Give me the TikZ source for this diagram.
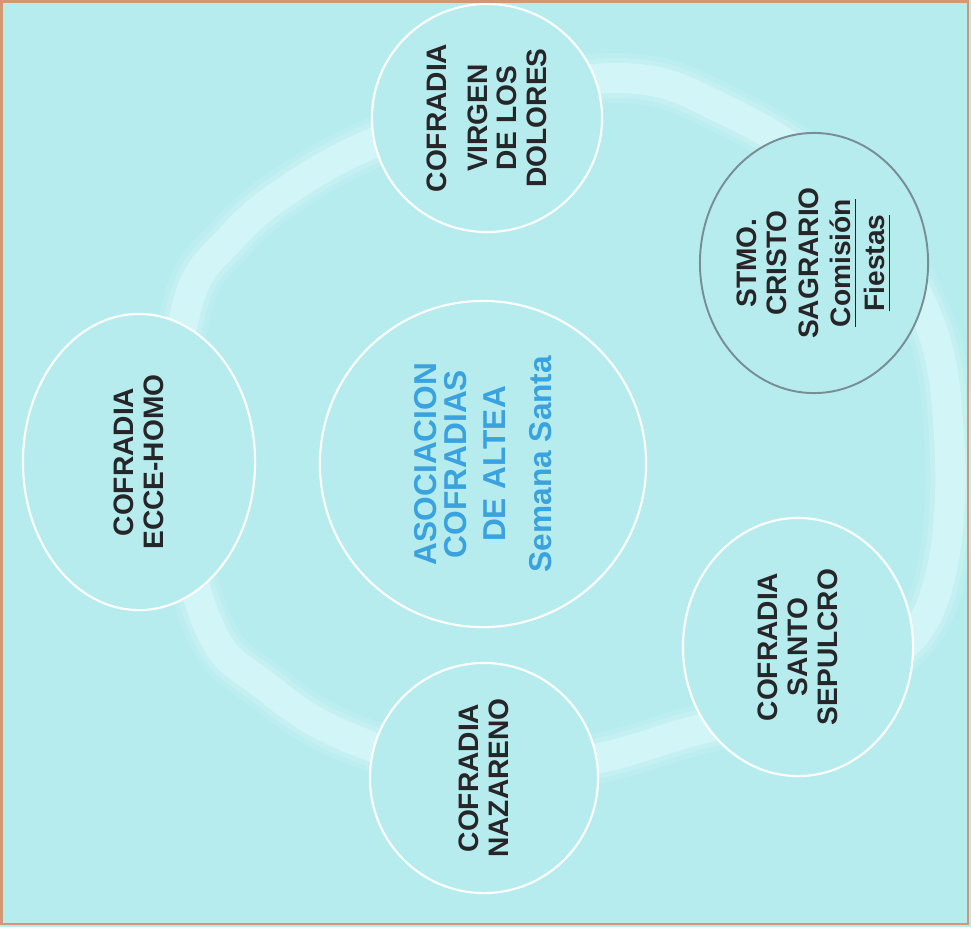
\documentclass[tikz,border=0pt]{standalone}
\usepackage{fontspec}
\setmainfont{Liberation Sans}
\usetikzlibrary{shapes.geometric}
\definecolor{bgc}{RGB}{183,236,239}
\definecolor{bandc}{RGB}{210,245,247}
\definecolor{framec}{RGB}{212,150,118}
\definecolor{darktxt}{RGB}{38,38,40}
\definecolor{bluetxt}{RGB}{58,162,222}
\definecolor{grayline}{RGB}{120,142,148}
\tikzset{
  orb/.style={ellipse, draw=white, line width=0.6pt, fill=bgc, inner sep=0pt,
    rotate=90, align=center, text=darktxt,
    font=\bfseries\fontsize{8}{8.5}\selectfont},
  grayorb/.style={orb, draw=grayline, line width=0.55pt},
  hub/.style={orb, text=bluetxt, font=\bfseries\fontsize{9}{8.6}\selectfont},
  band/.style={draw=bandc, line width=0.30cm, line join=round},
  softband/.style={draw=bandc, line width=0.40cm, opacity=0.4, line join=round},
  softerband/.style={draw=bandc, line width=0.50cm, opacity=0.2, line join=round}
}
\def\ringpts{(186,310) (232,237) (300,182) (380,140) (480,104) (620,78) (725,110)
    (830,180) (915,290) (948,420) (938,585) (880,665) (790,705) (690,732)
    (590,760) (480,772) (355,740) (268,688) (207,622) (176,465)}
\begin{document}
\begin{tikzpicture}[x=0.01cm, y=-0.01cm]
  \useasboundingbox (0,0) rectangle (971,927);
  \fill[bgc] (0,0) rectangle (971,927);
  % wide light ring
  \path[softerband] plot[smooth cycle, tension=0.7] coordinates {\ringpts};
  \path[softband] plot[smooth cycle, tension=0.7] coordinates {\ringpts};
  \path[band] plot[smooth cycle, tension=0.7] coordinates {\ringpts};
  % circles
  \node[hub, minimum width=3.26cm, minimum height=3.26cm] (center) at (483,464)
    {ASOCIACION\\COFRADIAS\\[2.4pt]DE ALTEA\\[4.6pt]Semana Santa};
  \node[orb, minimum width=2.28cm, minimum height=2.30cm] (virgen) at (487,118)
    {COFRADIA\\[3pt]VIRGEN\\DE LOS\\DOLORES};
  \node[grayorb, minimum width=2.60cm, minimum height=2.28cm] (stmo) at (814,263)
    {STMO.\\CRISTO\\[0.6pt]SAGRARIO\\[0.6pt]\underline{Comisión}\\[1.2pt]\underline{Fiestas}};
  \node[orb, minimum width=2.96cm, minimum height=2.32cm] (ecce) at (139,462)
    {COFRADIA\\ECCE-HOMO};
  \node[orb, minimum width=2.30cm, minimum height=2.28cm] (nazareno) at (484,778)
    {COFRADIA\\NAZARENO};
  \node[orb, minimum width=2.58cm, minimum height=2.30cm] (sepulcro) at (798,647)
    {COFRADIA\\SANTO\\SEPULCRO};
  % frame
  \draw[framec, line width=0.75pt] (1.5,1.5) rectangle (968,924);
\end{tikzpicture}
\end{document}
